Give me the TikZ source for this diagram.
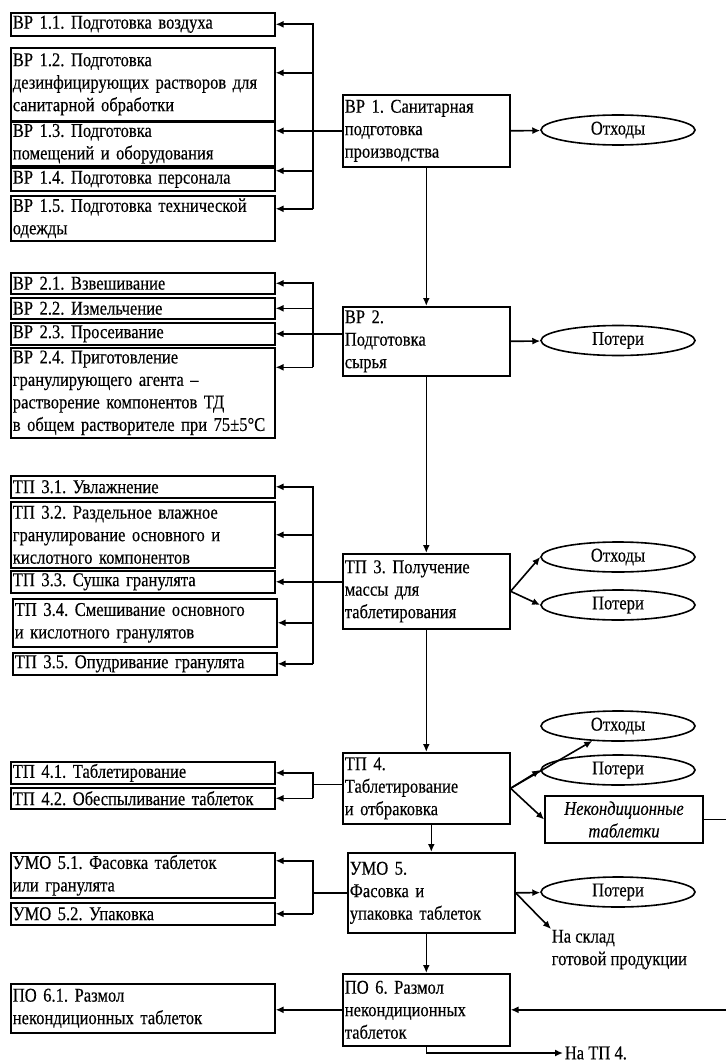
\documentclass[tikz,border=0pt]{standalone}
\usepackage{fontspec}
\setmainfont{Liberation Serif}[FakeStretch=0.85, FakeBold=0.3]
\usetikzlibrary{shapes.geometric,arrows.meta}
\frenchspacing
\begin{document}
\begin{tikzpicture}[x=1pt, y=-1pt, line width=1.6pt,
    every node/.style={font=\fontsize{19.5}{22.5}\selectfont},
    box/.style={draw, anchor=north west, text width=260pt, inner sep=2pt, align=left},
    mid/.style={draw, anchor=north west, text width=163pt, inner sep=2pt, align=left},
    oval/.style={draw, ellipse, minimum width=154pt, minimum height=30pt, inner sep=0pt},
    arr/.style={-{Latex[length=8pt,width=7pt]}}]
    \useasboundingbox (0,0) rectangle (725,1064);
    \coordinate (bus) at (313,0);
    \coordinate (edge) at (729,0);

    \node[box, minimum height=23pt] (vr11) at (10,12) {ВР 1.1. Подготовка воздуха};
    \node[box, minimum height=73pt] (vr12) at (10,47) {ВР 1.2. Подготовка\\дезинфицирующих растворов для\\санитарной обработки};
    \node[box, minimum height=44pt] (vr13) at (10,121) {ВР 1.3. Подготовка\\помещений и оборудования};
    \node[box, minimum height=23pt] (vr14) at (10,167) {ВР 1.4. Подготовка персонала};
    \node[box, minimum height=45pt] (vr15) at (10,195) {ВР 1.5. Подготовка технической\\одежды};
    \node[mid, minimum height=72pt] (vr1) at (342,94) {ВР 1. Санитарная\\подготовка\\производства};
    \node[oval] (otx1) at (618,130) {Отходы};

    \node[box, minimum height=21pt] (vr21) at (10,272) {ВР 2.1. Взвешивание};
    \node[box, minimum height=21pt] (vr22) at (10,297) {ВР 2.2. Измельчение};
    \node[box, minimum height=22pt] (vr23) at (10,322) {ВР 2.3. Просеивание};
    \node[box, minimum height=90pt] (vr24) at (10,347) {ВР 2.4. Приготовление\\гранулирующего агента –\\растворение компонентов ТД\\в общем растворителе при 75±5°С};
    \node[mid, minimum height=69pt] (vr2) at (342,306) {ВР 2.\\Подготовка\\сырья};
    \node[oval] (pot2) at (618,340.5) {Потери};

    \node[box, minimum height=22pt] (tp31) at (10,475) {ТП 3.1. Увлажнение};
    \node[box, minimum height=66pt] (tp32) at (10,501) {ТП 3.2. Раздельное влажное\\гранулирование основного и\\кислотного компонентов};
    \node[box, minimum height=22pt] (tp33) at (10,570) {ТП 3.3. Сушка гранулята};
    \node[box, minimum height=48pt] (tp34) at (12,598) {ТП 3.4. Смешивание основного\\и кислотного гранулятов};
    \node[box, minimum height=22pt] (tp35) at (12,652) {ТП 3.5. Опудривание гранулята};
    \node[mid, minimum height=75pt] (tp3) at (342,553) {ТП 3. Получение\\массы для\\таблетирования};
    \node[oval] (otx3) at (618,557) {Отходы};
    \node[oval] (pot3) at (618,605) {Потери};

    \node[box, minimum height=21pt] (tp41) at (10,761) {ТП 4.1. Таблетирование};
    \node[box, minimum height=21pt] (tp42) at (10,787) {ТП 4.2. Обеспыливание таблеток};
    \node[mid, minimum height=71pt] (tp4) at (342,752) {ТП 4.\\Таблетирование\\и отбраковка};
    \node[oval] (otx4) at (618,726) {Отходы};
    \node[oval] (pot4) at (618,770) {Потери};
    \node[draw, text width=154pt, inner sep=2pt, align=center, minimum height=47pt,
        font=\fontsize{19.5}{22.5}\selectfont\itshape] (nek) at (624,819.5) {Некондиционные\\таблетки};

    \node[box, minimum height=45pt] (umo51) at (10,852) {УМО 5.1. Фасовка таблеток\\или гранулята};
    \node[box, minimum height=22pt] (umo52) at (10,902) {УМО 5.2. Упаковка};
    \node[mid, minimum height=80pt] (umo5) at (347,852) {УМО 5.\\Фасовка и\\упаковка таблеток};
    \node[oval] (pot5) at (618,892) {Потери};
    \node[anchor=north west, inner sep=0pt, align=left] (sklad) at (551,929) {На склад\\готовой продукции};

    \node[box, minimum height=49pt] (po61) at (10,983) {ПО 6.1. Размол\\некондиционных таблеток};
    \node[mid, minimum height=72pt] (po6) at (342,973) {ПО 6. Размол\\некондиционных\\таблеток};
    \node[anchor=west, inner sep=1pt] (natp4) at (563,1053) {На ТП 4.};

    \draw[arr] (vr1.west) -- (vr1.west -| vr13.east);
    \draw[arr] ([yshift=9.5pt]vr15.east -| bus) |- (vr11.east);
    \foreach \n/\s in {vr12/11.5pt, vr14/8.5pt, vr15/9.5pt}
        \draw[arr] ([yshift=\s]\n.east -| bus) -- ([yshift=\s]\n.east);
    \draw[arr] (vr1.east) -- (otx1);
    \draw[arr] (vr1.south) -- (vr2.north);

    \draw[arr] (vr2.west |- vr23.east) -- (vr23.east);
    \draw[arr] ([yshift=25.5pt]vr24.east -| bus) |- (vr21.east);
    \draw[arr] (vr22.east -| bus) -- (vr22.east);
    \draw[arr] ([yshift=25.5pt]vr24.east -| bus) -- ([yshift=25.5pt]vr24.east);
    \draw[arr] (vr2.east) -- (pot2);
    \draw[arr] (vr2.south) -- (tp3.north);

    \draw[arr] (tp3.west |- tp33.east) -- (tp33.east);
    \draw[arr] (tp35.east -| bus) |- (tp31.east);
    \foreach \n in {tp32, tp34, tp35}
        \draw[arr] (\n.east -| bus) -- (\n.east);
    \draw[arr] (tp3.east) -- (otx3.west);
    \draw[arr] (tp3.east) -- (pot3.west);
    \draw[arr] (tp3.south) -- (tp4.north);

    \draw ([yshift=4pt]tp4.west) -- ([yshift=4pt]tp4.west -| bus);
    \draw[arr] (tp42.east -| bus) |- (tp41.east);
    \draw[arr] (tp42.east -| bus) -- (tp42.east);
    \draw[arr] (tp4.east) -- (otx4);
    \draw[arr] (tp4.east) -- (pot4.west);
    \draw[arr] (tp4.east) -- (nek.west);
    \draw[arr] (nek.east) -- (nek.east -| edge) |- (po6.east);
    \draw[arr] (tp4.south -| umo5.north) -- (umo5.north);

    \draw (umo5.west) -- (umo5.west -| bus);
    \draw[arr] (umo52.east -| bus) |- ([yshift=14.5pt]umo51.east);
    \draw[arr] (umo52.east -| bus) -- (umo52.east);
    \draw[arr] (umo5.east) -- (pot5);
    \draw[arr] (umo5.east) -- (sklad.north west);
    \draw[arr] (umo5.south -| po6.north) -- (po6.north);

    \draw[arr] (po6.west) -- (po6.west -| po61.east);
    \draw[arr] (po6.south) |- (natp4.west);
\end{tikzpicture}
\end{document}
